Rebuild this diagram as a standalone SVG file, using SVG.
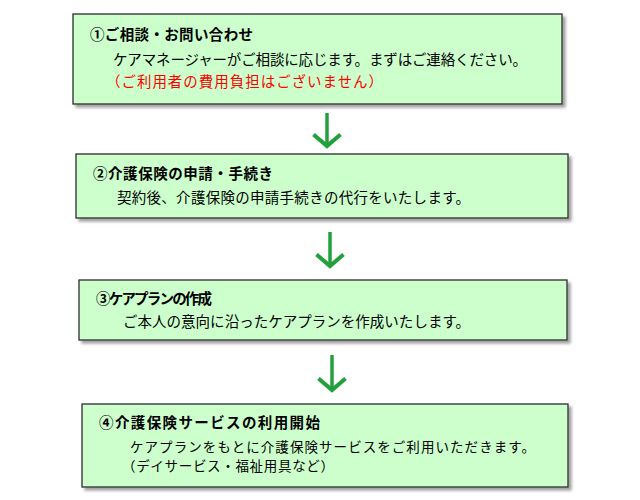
<svg xmlns="http://www.w3.org/2000/svg" width="640" height="500" viewBox="0 0 640 500">
<style>
.box{fill:#ccffcc;stroke:#2b2b2b;stroke-width:1.3;filter:url(#sh)}
text{font-family:"Noto Sans CJK JP","Noto Sans",sans-serif;font-size:14.5px;fill:#000}
.t{font-weight:bold}
.s{font-size:13.5px}
.red{fill:#ff0000}
.arr{stroke:#22a03c;stroke-width:3.5;fill:none;marker-end:url(#ah)}
</style>
<defs>
<filter id="sh" x="-5%" y="-10%" width="112%" height="130%">
<feDropShadow dx="3" dy="3" stdDeviation="1.5" flood-color="#777" flood-opacity="0.7"/>
</filter>
<marker id="ah" viewBox="0 0 16 30" refX="13" refY="15" markerWidth="16" markerHeight="30" markerUnits="userSpaceOnUse" orient="auto">
<path d="M1.5,1.5 L13,15 L1.5,28.5" fill="none" stroke="#22a03c" stroke-width="4"/>
</marker>
</defs>
<rect width="640" height="500" fill="#ffffff"/>
<g id="connectors">
<line class="arr" x1="327" y1="113" x2="327" y2="146"/>
<line class="arr" x1="330" y1="232" x2="330" y2="266"/>
<line class="arr" x1="332" y1="355" x2="332" y2="390"/>
</g>
<g id="step1">
<rect class="box" x="73" y="14" width="489" height="90"/>
<text class="t" x="90" y="40" textLength="163">①ご相談・お問い合わせ</text>
<text x="113" y="65" textLength="414">ケアマネージャーがご相談に応じます。まずはご連絡ください。</text>
<text class="red" x="106" y="87" textLength="277">（ご利用者の費用負担はございません）</text>
</g>
<g id="step2">
<rect class="box" x="76" y="154" width="492" height="64"/>
<text class="t" x="93" y="179" textLength="180">②介護保険の申請・手続き</text>
<text x="117" y="203" textLength="353">契約後、介護保険の申請手続きの代行をいたします。</text>
</g>
<g id="step3">
<rect class="box" x="79" y="280" width="488" height="60"/>
<text class="t" x="96" y="304" textLength="116">③ケアプランの作成</text>
<text x="123" y="327" textLength="347">ご本人の意向に沿ったケアプランを作成いたします。</text>
</g>
<g id="step4">
<rect class="box" x="82" y="404" width="486" height="83"/>
<text class="t" x="99" y="428" textLength="221">④介護保険サービスの利用開始</text>
<text class="s" x="130" y="451.5" textLength="405">ケアプランをもとに介護保険サービスをご利用いただきます。</text>
<text class="s" x="122" y="471.2" textLength="212">（デイサービス・福祉用具など）</text>
</g>
</svg>
